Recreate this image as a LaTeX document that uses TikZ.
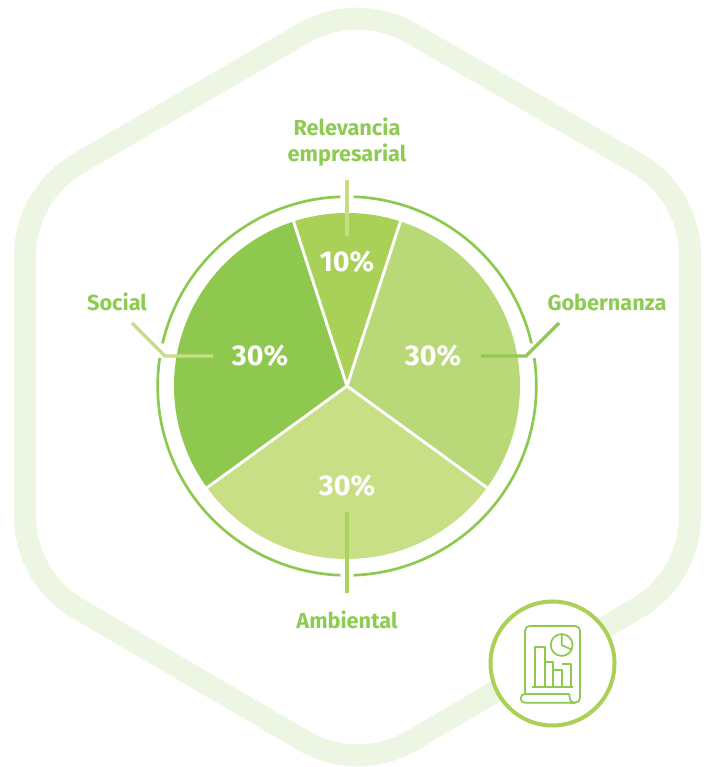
\documentclass[tikz,border=0pt]{standalone}
\usepackage{fontspec}
\usetikzlibrary{calc}
\setmainfont{Fira Sans}
\definecolor{hexc}{HTML}{EDF5E3}
\definecolor{ringc}{HTML}{8DC84F}
\definecolor{leadc}{HTML}{C6DE84}
\definecolor{leadm}{HTML}{A8D45E}
\definecolor{leadd}{HTML}{8FCB52}
\definecolor{sliceL}{HTML}{8FC84E}
\definecolor{sliceT}{HTML}{A9D158}
\definecolor{sliceR}{HTML}{B9D978}
\definecolor{sliceB}{HTML}{C8DF86}
\definecolor{labc}{HTML}{8FCB52}
\tikzset{
  lab/.style={text=labc,font=\fontsize{16.3pt}{19.5pt}\selectfont\bfseries,align=center,inner sep=0pt},
  pct/.style={text=white,font=\fontsize{21.5pt}{24pt}\selectfont\bfseries,inner sep=0pt},
  ringarc/.style={draw=ringc,line width=2pt},
  leader/.style={line width=2.4pt},
  iconline/.style={draw=ringc,line width=1.3pt,line join=round}
}
\begin{document}
\begin{tikzpicture}[x=0.75pt,y=0.75pt]
\path[use as bounding box] (0,0) rectangle (707,767);
% hexagon
\draw[hexc,line width=16.5pt]
  (25,251) -- (25,511) arc[start angle=180,end angle=120,radius=80.25pt]
  -- (303.8,734) arc[start angle=120,end angle=60,radius=80.25pt]
  -- (636.5,604) arc[start angle=60,end angle=0,radius=80.25pt]
  -- (690,251) arc[start angle=0,end angle=-60,radius=80.25pt]
  -- (411.2,26) arc[start angle=-60,end angle=-120,radius=80.25pt]
  -- (78.5,158) arc[start angle=-120,end angle=-180,radius=80.25pt] -- cycle;
% pie
\coordinate (c) at (347,381);
\fill[sliceL] (c) -- +(108:129.75pt) arc[start angle=108,end angle=216,radius=129.75pt] -- cycle;
\fill[sliceT] (c) -- +(72:129.75pt) arc[start angle=72,end angle=108,radius=129.75pt] -- cycle;
\fill[sliceR] (c) -- +(-36:129.75pt) arc[start angle=-36,end angle=72,radius=129.75pt] -- cycle;
\fill[sliceB] (c) -- +(216:129.75pt) arc[start angle=216,end angle=324,radius=129.75pt] -- cycle;
\draw[white,line width=2.2pt] (c) -- +(72:131pt) (c) -- +(108:131pt) (c) -- +(216:131pt) (c) -- +(-36:131pt);
% ring
\draw[ringarc] ($(c)+(92:142pt)$) arc[start angle=92,end angle=167,radius=142pt];
\draw[ringarc] ($(c)+(171.5:142pt)$) arc[start angle=171.5,end angle=268,radius=142pt];
\draw[ringarc] ($(c)+(272:142pt)$) arc[start angle=272,end angle=368.5,radius=142pt];
\draw[ringarc] ($(c)+(13:142pt)$) arc[start angle=13,end angle=88,radius=142pt];
% labels
\node[lab] (rel) at (347,624.5) {Relevancia\\empresarial};
\node[lab] (soc) at (117,465) {Social};
\node[lab] (gob) at (607,465) {Gobernanza};
\node[lab] (amb) at (347,147) {Ambiental};
\node[pct] (p10) at (347,505) {10\%};
\node[pct] (p30l) at (260,411) {30\%};
\node[pct] (p30r) at (433,411) {30\%};
\node[pct] (p30b) at (347,281) {30\%};
% leaders
\coordinate (t1) at (347,587); \coordinate (t2) at (347,531);
\coordinate (l1) at (132,444); \coordinate (l2) at (165,411); \coordinate (l3) at (213,411);
\coordinate (r1) at (559,444); \coordinate (r2) at (526,411); \coordinate (r3) at (481,411);
\coordinate (b1) at (347,255); \coordinate (b2) at (347,174);
\draw[leader,leadc] (t1) -- (t2);
\draw[leader,leadc] (l1) -- (l2) -- (l3);
\draw[leader,leadd] (r1) -- (r2) -- (r3);
\draw[leader,leadm] (b1) -- (b2);
% icon
\node[circle,draw=sliceT,fill=white,line width=3pt,minimum size=93pt,inner sep=0pt] (ic) at (552.5,103.5) {};
\begin{scope}[shift={(470,177)},x=0.25pt,y=-0.25pt]
\draw[iconline,rounded corners=3.5pt] (165,312) -- (165,108) -- (330,108) -- (330,338) -- (300,338);
\draw[iconline,rounded corners=3pt] (315,338) -- (152,338) -- (152,312) -- (298,312);
\draw[iconline] (298,312) .. controls (298,330) and (303,338) .. (315,338);
\draw[iconline] (275,165) circle[radius=8.2pt];
\draw[iconline] (275,135) -- (275,165) -- (303,178);
\draw[iconline] (195,290) -- (195,170) -- (225,170) -- (225,290);
\draw[iconline] (225,217) -- (250,217) -- (250,290);
\draw[iconline] (250,240) -- (275,240) -- (275,290);
\draw[iconline] (275,222) -- (302,222) -- (302,290);
\draw[iconline] (187,290) -- (310,290);
\end{scope}
\end{tikzpicture}
\end{document}
